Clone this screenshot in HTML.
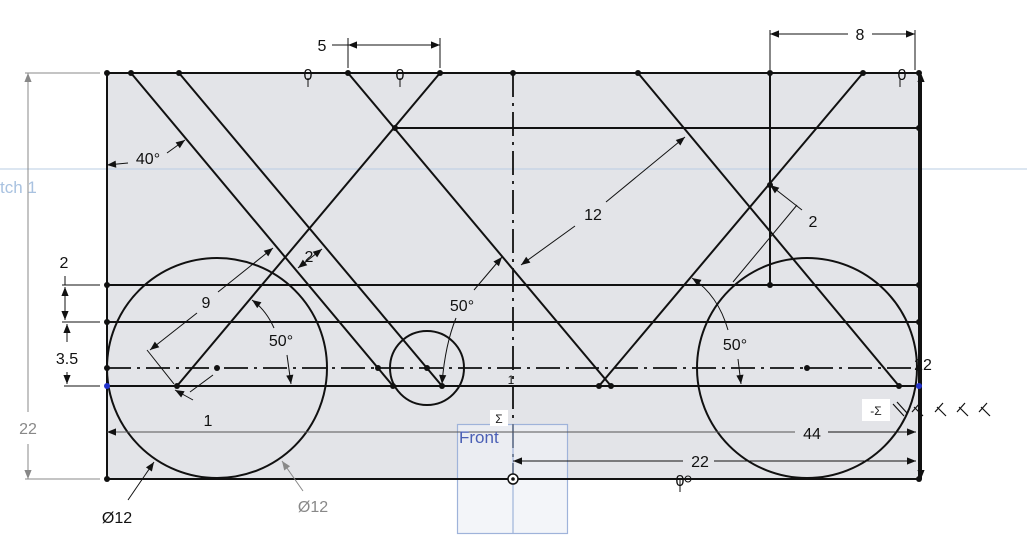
<!DOCTYPE html>
<html><head><meta charset="utf-8"><style>
html,body{margin:0;padding:0;background:#fff;}
svg{display:block;font-family:"Liberation Sans","DejaVu Sans",sans-serif;}
</style></head><body>
<svg width="1027" height="559" viewBox="0 0 1027 559" xmlns="http://www.w3.org/2000/svg">
<defs>
<marker id="a" viewBox="0 0 10 10" refX="10" refY="5" markerWidth="14" markerHeight="9" markerUnits="userSpaceOnUse" orient="auto-start-reverse"><path d="M0,1 L10,5 L0,9 Z" fill="#111"/></marker>
<marker id="g" viewBox="0 0 10 10" refX="10" refY="5" markerWidth="14" markerHeight="9" markerUnits="userSpaceOnUse" orient="auto-start-reverse"><path d="M0,1 L10,5 L0,9 Z" fill="#888"/></marker>
</defs>
<rect x="107" y="73" width="812" height="406" fill="#e3e4e8"/>
<line x1="0" y1="169" x2="1027" y2="169" stroke="#b9cce3" stroke-width="1"/>
<text x="0" y="193" font-size="17" fill="#a9c2e0">tch 1</text>
<rect x="457.5" y="424.5" width="110" height="109" fill="#eef1f7" fill-opacity="0.7" stroke="#9fb3da" stroke-width="1.2"/>
<g stroke="#111" stroke-width="2" fill="none">
<rect x="107" y="73" width="812" height="406"/>
<line x1="395" y1="128" x2="919" y2="128"/>
<line x1="107" y1="285" x2="919" y2="285"/>
<line x1="107" y1="322" x2="919" y2="322"/>
<line x1="107" y1="386" x2="919" y2="386"/>
<line x1="770" y1="73" x2="770" y2="285"/>
<line x1="921" y1="80" x2="921" y2="479"/>
<line x1="131" y1="73" x2="393" y2="386"/>
<line x1="179" y1="73" x2="442" y2="386"/>
<line x1="348" y1="73" x2="611" y2="386"/>
<line x1="440" y1="73" x2="177" y2="386"/>
<line x1="638" y1="73" x2="899" y2="386"/>
<line x1="863" y1="73" x2="599" y2="386"/>
<circle cx="217" cy="368" r="110"/>
<circle cx="427" cy="368" r="37"/>
<circle cx="807" cy="368" r="110"/>
<line x1="107" y1="368" x2="919" y2="368" stroke-dasharray="24,6,3,6" stroke-width="1.8"/>
<line x1="513" y1="73" x2="513" y2="479" stroke-dasharray="24,6,3,6" stroke-width="1.8"/>
</g>
<line x1="513" y1="424" x2="513" y2="533" stroke="#9fb3da" stroke-width="1.2"/>
<g fill="#111">
<circle cx="107" cy="73" r="3"/><circle cx="131" cy="73" r="3"/><circle cx="179" cy="73" r="3"/><circle cx="348" cy="73" r="3"/><circle cx="440" cy="73" r="3"/><circle cx="513" cy="73" r="3"/><circle cx="638" cy="73" r="3"/><circle cx="770" cy="73" r="3"/><circle cx="863" cy="73" r="3"/><circle cx="919" cy="73" r="3"/>
<circle cx="395" cy="128" r="3"/><circle cx="919" cy="128" r="3"/>
<circle cx="107" cy="285" r="3"/><circle cx="770" cy="285" r="3"/><circle cx="919" cy="285" r="3"/>
<circle cx="107" cy="322" r="3"/><circle cx="919" cy="322" r="3"/>
<circle cx="107" cy="368" r="3"/><circle cx="217" cy="368" r="3"/><circle cx="378" cy="368" r="3"/><circle cx="427" cy="368" r="3"/><circle cx="807" cy="368" r="3"/><circle cx="919" cy="368" r="3"/>
<circle cx="177" cy="386" r="3"/><circle cx="393" cy="386" r="3"/><circle cx="442" cy="386" r="3"/><circle cx="599" cy="386" r="3"/><circle cx="611" cy="386" r="3"/><circle cx="899" cy="386" r="3"/>
<circle cx="107" cy="479" r="3"/><circle cx="919" cy="479" r="3"/><circle cx="770" cy="185" r="3"/>
</g>
<circle cx="107" cy="386" r="3" fill="#2233cc"/><circle cx="919" cy="386" r="3" fill="#2233cc"/>
<circle cx="513" cy="479" r="5" fill="#fff" stroke="#111" stroke-width="1.5"/><circle cx="513" cy="479" r="1.8" fill="#111"/>
<g stroke="#111" stroke-width="1" fill="none">
<line x1="348" y1="38" x2="348" y2="68"/><line x1="440" y1="38" x2="440" y2="68"/>
<line x1="348" y1="45" x2="440" y2="45" marker-start="url(#a)" marker-end="url(#a)"/>
<line x1="332" y1="45" x2="348" y2="45"/>
<line x1="770" y1="30" x2="770" y2="70"/><line x1="915" y1="30" x2="915" y2="70"/>
<line x1="770" y1="34" x2="848" y2="34" marker-start="url(#a)"/><line x1="872" y1="34" x2="915" y2="34" marker-end="url(#a)"/>
<line x1="107" y1="165" x2="128" y2="163" marker-start="url(#a)"/>
<line x1="167" y1="153" x2="185" y2="140" marker-end="url(#a)"/>
<line x1="62" y1="285" x2="100" y2="285"/><line x1="62" y1="322" x2="100" y2="322"/><line x1="64" y1="386" x2="100" y2="386"/>
<line x1="65" y1="276" x2="65" y2="285" /><line x1="65" y1="287" x2="65" y2="320" marker-start="url(#a)" marker-end="url(#a)"/>
<line x1="67" y1="324" x2="67" y2="342" marker-start="url(#a)"/><line x1="67" y1="372" x2="67" y2="384" marker-end="url(#a)"/>
<line x1="147" y1="350" x2="174" y2="384"/>
<line x1="150" y1="350" x2="197" y2="313" marker-start="url(#a)"/>
<line x1="218" y1="292" x2="273" y2="248" marker-end="url(#a)"/>
<line x1="298" y1="268" x2="322" y2="249" marker-start="url(#a)" marker-end="url(#a)"/>
<path d="M274,328 Q266,310 252,300" marker-end="url(#a)"/>
<line x1="287" y1="355" x2="291" y2="384" marker-end="url(#a)"/>
<line x1="175" y1="390" x2="193" y2="400" marker-start="url(#a)"/>
<line x1="190" y1="392" x2="213" y2="375"/>
<path d="M456,318 Q445,345 442,384" marker-end="url(#a)"/>
<line x1="474" y1="290" x2="502" y2="257" marker-end="url(#a)"/>
<line x1="575" y1="226" x2="521" y2="265" marker-end="url(#a)"/>
<line x1="606" y1="202" x2="685" y2="137" marker-end="url(#a)"/>
<line x1="770" y1="185" x2="802" y2="210" marker-start="url(#a)"/>
<line x1="797" y1="205" x2="733" y2="282"/>
<path d="M728,330 Q718,295 692,278" marker-end="url(#a)"/>
<line x1="738" y1="359" x2="741" y2="384" marker-end="url(#a)"/>
<line x1="513" y1="461" x2="683" y2="461" marker-start="url(#a)"/><line x1="714" y1="461" x2="916" y2="461" marker-end="url(#a)"/>
<line x1="107" y1="432" x2="795" y2="432" stroke="#555" marker-start="url(#a)"/><line x1="828" y1="432" x2="916" y2="432" marker-end="url(#a)"/>
<line x1="921" y1="73" x2="921" y2="74" marker-start="url(#a)"/>
<line x1="921" y1="470" x2="921" y2="479" marker-end="url(#a)"/>
<line x1="128" y1="500" x2="154" y2="462" marker-end="url(#a)"/>
<line x1="308" y1="78" x2="308" y2="87"/><line x1="400" y1="78" x2="400" y2="87"/><line x1="900" y1="78" x2="900" y2="87"/><line x1="680" y1="480" x2="680" y2="492"/>
</g>
<g stroke="#888" stroke-width="1" fill="none">
<line x1="25" y1="73" x2="100" y2="73"/><line x1="25" y1="479" x2="100" y2="479"/>
<line x1="28" y1="73" x2="28" y2="412" marker-start="url(#g)"/><line x1="28" y1="444" x2="28" y2="479" marker-end="url(#g)"/>
<line x1="303" y1="491" x2="282" y2="461" marker-end="url(#g)"/>
</g>
<g font-size="16" fill="#111" text-anchor="middle">
<text x="322" y="51">5</text>
<text x="860" y="40">8</text>
<text x="148" y="164">40°</text>
<text x="593" y="220">12</text>
<text x="813" y="227">2</text>
<text x="309" y="262">2</text>
<text x="64" y="268">2</text>
<text x="67" y="364">3.5</text>
<text x="206" y="308">9</text>
<text x="281" y="346">50°</text>
<text x="208" y="426">1</text>
<text x="462" y="311">50°</text>
<text x="735" y="350">50°</text>
<text x="923" y="370">22</text>
<text x="812" y="439">44</text>
<text x="700" y="467">22</text>
<text x="117" y="523">Ø12</text>
<text x="511" y="384" font-size="12">1</text>
<text x="308" y="80" font-size="16">0</text>
<text x="400" y="80" font-size="16">0</text>
<text x="902" y="80" font-size="16">0</text>
<text x="680" y="486" font-size="16">0</text>
</g>
<circle cx="688" cy="479" r="3" fill="none" stroke="#111" stroke-width="1"/>
<text x="28" y="434" font-size="16" fill="#888" text-anchor="middle">22</text>
<text x="313" y="512" font-size="16" fill="#888" text-anchor="middle">Ø12</text>
<text x="459" y="443" font-size="17" fill="#4a5fb5">Front</text>
<rect x="490" y="410" width="18" height="16" fill="#fff"/>
<text x="499" y="423" font-size="12" fill="#222" text-anchor="middle">Σ</text>
<rect x="862" y="399" width="28" height="22" fill="#fff"/>
<text x="876" y="415" font-size="12" fill="#222" text-anchor="middle">-Σ</text>
<g stroke="#111" stroke-width="1.2" fill="none">
<path d="M893,404 L904,416 M897,402 L907,413"/>
<path d="M912,412 L920,403 M914,407 L923,416"/>
<path d="M935,412 L943,403 M937,407 L946,416"/>
<path d="M957,412 L965,403 M959,407 L968,416"/>
<path d="M979,412 L987,403 M981,407 L990,416"/>
</g>
</svg>
</body></html>
